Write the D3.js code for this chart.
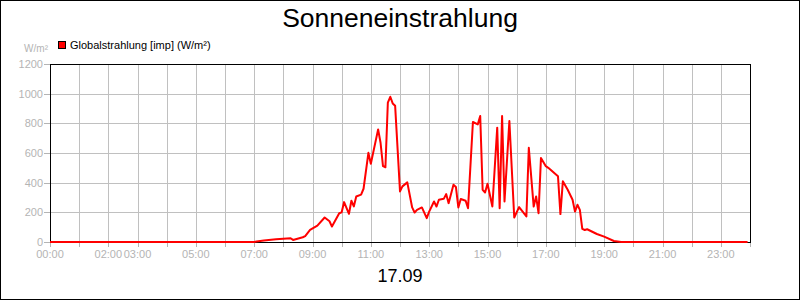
<!DOCTYPE html>
<html lang="de">
<head>
    <meta charset="UTF-8">
    <title>Sonneneinstrahlung</title>
    <script src="https://d3js.org/d3.v7.min.js"></script>
    <style>
        body { margin: 0; background: #fff; }
        text { font-family: "Liberation Sans", Arial, sans-serif; }
        .grid line { stroke: #c0c0c0; stroke-width: 1px; }
        .tick-label { fill: #b4b4b4; font-size: 11px; }
        .tick-mark { stroke: #b4b4b4; stroke-width: 1px; }
        .series { fill: none; stroke: #ff0000; stroke-width: 2px; stroke-linejoin: round; }
    </style>
</head>
<body>
    <script>
        // readings on 17.09 (W/m²)
        const times = ["00:00", "07:00", "07:05", "07:20", "07:45", "08:15", "08:20", "08:40", "08:45", "08:55",
            "09:10", "09:25", "09:35", "09:40", "09:55", "10:00", "10:05", "10:15", "10:20", "10:25",
            "10:30", "10:40", "10:45", "10:55", "11:00", "11:15", "11:20", "11:25", "11:30", "11:35",
            "11:40", "11:45", "11:50", "12:00", "12:05", "12:15", "12:25", "12:30", "12:35", "12:45",
            "12:55", "13:00", "13:10", "13:15", "13:20", "13:30", "13:35", "13:40", "13:50", "13:55",
            "14:00", "14:05", "14:15", "14:20", "14:30", "14:40", "14:45", "14:50", "14:55", "15:00",
            "15:10", "15:20", "15:25", "15:30", "15:35", "15:45", "15:55", "16:05", "16:20", "16:25",
            "16:35", "16:40", "16:45", "16:50", "17:00", "17:05", "17:25", "17:30", "17:35", "17:45",
            "17:55", "18:00", "18:05", "18:10", "18:15", "18:20", "18:25", "18:45", "19:00", "19:20",
            "19:35", "23:55"];
        const values = [0, 0, 3, 10, 18, 25, 14, 32, 40, 81,
            110, 165, 140, 104, 194, 200, 269, 190, 278, 240,
            307, 319, 359, 601, 527, 759, 669, 511, 504, 940,
            979, 934, 918, 341, 375, 402, 233, 199, 217, 233,
            161, 205, 273, 239, 285, 291, 323, 262, 386, 371,
            233, 290, 278, 228, 809, 793, 850, 352, 334, 393,
            239, 771, 228, 850, 273, 816, 165, 235, 172, 635,
            239, 307, 194, 567, 511, 500, 443, 188, 409, 352,
            285, 205, 251, 217, 88, 81, 86, 54, 36, 7,
            0, 0];

        const xTickHours = d3.range(0, 25);
        const xLabelHours = [0, 2, 3, 5, 7, 9, 11, 13, 15, 17, 19, 21, 23];
        const yTicks = [0, 200, 400, 600, 800, 1000, 1200];

        const W = 800, H = 300;
        const plot = { left: 50, right: 750, top: 64, bottom: 242 };

        const toMin = s => { const p = s.split(":"); return +p[0] * 60 + +p[1]; };
        const data = times.map((t, i) => ({ m: toMin(t), v: values[i] }));

        const svg = d3.select("body").append("svg")
            .attr("width", W)
            .attr("height", H);

        svg.append("rect")
            .attr("x", 0.5).attr("y", 0.5)
            .attr("width", W - 1).attr("height", H - 1)
            .attr("fill", "#fff").attr("stroke", "#000");

        const x = d3.scaleLinear().domain([0, 1440]).range([plot.left, plot.right]);
        const y = d3.scaleLinear().domain([0, 1200]).range([plot.bottom, plot.top]);

        // grid
        const grid = svg.append("g").attr("class", "grid");
        grid.selectAll(".gx")
            .data(xTickHours)
          .enter().append("line")
            .attr("x1", d => Math.round(x(d * 60)) + 0.5)
            .attr("x2", d => Math.round(x(d * 60)) + 0.5)
            .attr("y1", plot.top).attr("y2", plot.bottom);
        grid.selectAll(".gy")
            .data(yTicks)
          .enter().append("line")
            .attr("x1", plot.left).attr("x2", plot.right)
            .attr("y1", d => Math.round(y(d)) + 0.5)
            .attr("y2", d => Math.round(y(d)) + 0.5);

        // y ticks + labels
        svg.selectAll(".ytm")
            .data(yTicks)
          .enter().append("line")
            .attr("class", "tick-mark")
            .attr("x1", plot.left - 6).attr("x2", plot.left)
            .attr("y1", d => Math.round(y(d)) + 0.5)
            .attr("y2", d => Math.round(y(d)) + 0.5);
        svg.selectAll(".ytl")
            .data(yTicks)
          .enter().append("text")
            .attr("class", "tick-label")
            .attr("x", plot.left - 7)
            .attr("y", d => y(d) + 4)
            .attr("text-anchor", "end")
            .text(d => d);

        // x ticks + labels
        svg.selectAll(".xtm")
            .data(xTickHours)
          .enter().append("line")
            .attr("class", "tick-mark")
            .attr("x1", d => Math.round(x(d * 60)) + 0.5)
            .attr("x2", d => Math.round(x(d * 60)) + 0.5)
            .attr("y1", plot.bottom).attr("y2", plot.bottom + 5);
        svg.selectAll(".xtl")
            .data(xLabelHours)
          .enter().append("text")
            .attr("class", "tick-label")
            .attr("x", d => x(d * 60))
            .attr("y", plot.bottom + 16)
            .attr("text-anchor", "middle")
            .text(d => d3.format("02")(d) + ":00");

        // frame
        svg.append("rect")
            .attr("x", plot.left + 0.5).attr("y", plot.top + 0.5)
            .attr("width", plot.right - plot.left).attr("height", plot.bottom - plot.top)
            .attr("fill", "none").attr("stroke", "#000");

        // series
        const line = d3.line()
            .x(d => x(d.m))
            .y(d => y(d.v));
        svg.append("path")
            .datum(data)
            .attr("class", "series")
            .attr("d", line);

        // title, unit, legend, date
        svg.append("text")
            .attr("x", W / 2).attr("y", 27)
            .attr("text-anchor", "middle")
            .attr("font-size", 26.5)
            .text("Sonneneinstrahlung");

        svg.append("text")
            .attr("x", 48).attr("y", 52)
            .attr("text-anchor", "end")
            .attr("font-size", 10)
            .attr("fill", "#b4b4b4")
            .text("W/m²");

        svg.append("rect")
            .attr("x", 58.5).attr("y", 41.5)
            .attr("width", 7).attr("height", 7)
            .attr("fill", "#ff0000").attr("stroke", "#000");
        svg.append("text")
            .attr("x", 70).attr("y", 49)
            .attr("font-size", 11)
            .text("Globalstrahlung [imp] (W/m²)");

        svg.append("text")
            .attr("x", W / 2).attr("y", 282)
            .attr("text-anchor", "middle")
            .attr("font-size", 18)
            .text("17.09");
    </script>
</body>
</html>
